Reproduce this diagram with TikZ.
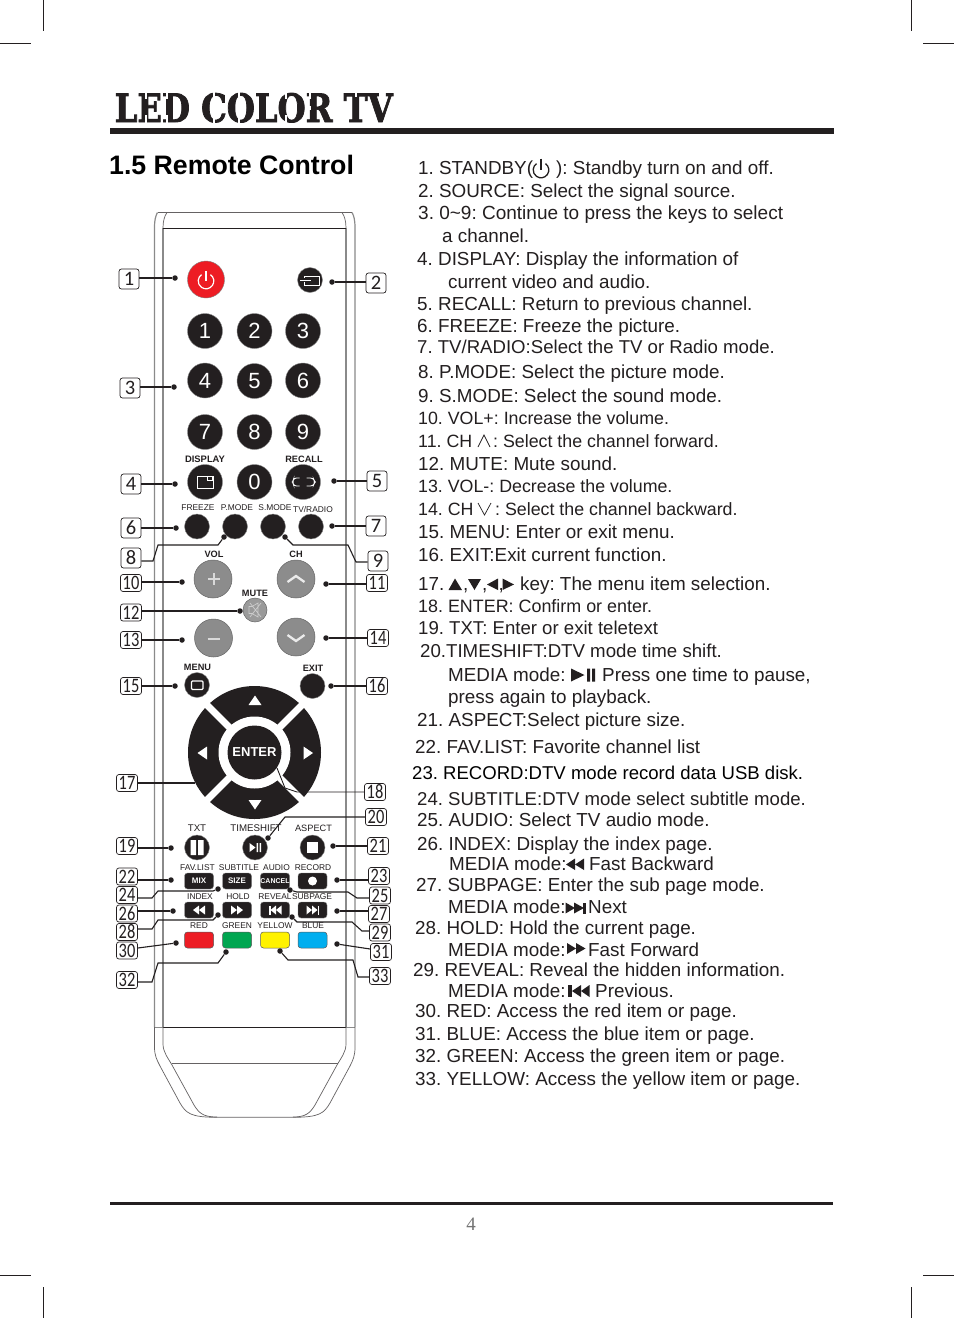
\documentclass[tikz,border=0pt]{standalone}
\usepackage{fontspec}
\usepackage{graphicx}
\setmainfont{Liberation Sans}
\newfontfamily\numfont{Carlito}
\newfontfamily\headfont[UprightFont=* Bold,FakeBold=2.2]{DejaVu Serif}
\newfontfamily\pagefont{Liberation Serif}
\definecolor{ink}{HTML}{231F20}
\definecolor{bodygray}{HTML}{8A8A8A}
\definecolor{btngray}{HTML}{8C8C8C}
\definecolor{mutegray}{HTML}{9A9A9A}
\definecolor{redkey}{HTML}{ED1C24}
\definecolor{greenkey}{HTML}{00A651}
\definecolor{yellowkey}{HTML}{FFF200}
\definecolor{bluekey}{HTML}{00AEEF}
\frenchspacing
\newcount\tlcount
\newcommand{\tl}[4][18.85]{\global\advance\tlcount by 1
  \node[anchor=base west,inner sep=0pt,text=ink] (t\the\tlcount) at (#2,#3) {\fontsize{#1}{#1}\selectfont #4};}
\newcount\klcount
\newcommand{\kl}[4][8.4]{\global\advance\klcount by 1
  \node[inner sep=0pt,text=ink] (k\the\klcount) at (#2,#3) {\fontsize{#1}{#1}\selectfont #4};}
\newcommand{\nb}[3]{\node[numbox] (b#1) at (#2,#3) {#1};}
\newcommand{\nbb}[3]{\node[numbox,minimum width=21pt,minimum height=17pt] (b#1) at (#2,#3) {\scalebox{0.8}[1]{#1}};}
\newcommand{\dotat}[3]{\node[dotn] (d#1) at (#2,#3) {};}
\newcommand{\tri}[7]{\fill[#7] (#1,#2) -- (#3,#4) -- (#5,#6) -- cycle;}
\tikzset{
  numbox/.style={draw=ink,fill=white,line width=0.7pt,rounded corners=2.5pt,minimum width=20pt,minimum height=20pt,inner sep=0pt,text height=13pt,text depth=0pt,font=\numfont\fontsize{20.5}{20.5}\selectfont,text=ink},
  dotn/.style={circle,fill=ink,minimum size=5.5pt,inner sep=0pt},
  conn/.style={draw=ink,line width=1.1pt},
  blackkey/.style={circle,fill=ink,draw=bodygray,line width=0.4pt,inner sep=0pt},
  graykey/.style={circle,fill=btngray,draw=black!60,line width=0.5pt,inner sep=0pt,minimum size=38pt},
  rectkey/.style={fill=ink,draw=bodygray,line width=0.4pt,rounded corners=3pt,minimum width=29pt,minimum height=16pt,inner sep=0pt},
  colorkey/.style={draw=black!65,line width=0.5pt,rounded corners=3pt,minimum width=29pt,minimum height=16pt,inner sep=0pt},
  numkey/.style={blackkey,minimum size=35pt,text=white,font=\fontsize{22}{22}\selectfont},
  smallkey/.style={blackkey,minimum size=25pt},
  glyph/.style={draw=white,line width=1.1pt},
  rmain/.style={draw=ink!70,line width=0.7pt},
  rinner/.style={draw=bodygray,line width=1.2pt},
  crop/.style={draw=ink,line width=0.8pt},
  slit/.style={draw=white,line width=1.1pt},
}
\begin{document}
\begin{tikzpicture}[x=1pt,y=-1pt]
\useasboundingbox (0,0) rectangle (954,1318);
\fill[white] (0,0) rectangle (954,1318);
% crop marks
\draw[crop] (43.5,0) -- (43.5,31); \draw[crop] (0,43.5) -- (31,43.5);
\draw[crop] (911,0) -- (911,31); \draw[crop] (923,43.5) -- (954,43.5);
\draw[crop] (43.5,1287) -- (43.5,1318); \draw[crop] (0,1275) -- (31,1275);
\draw[crop] (911,1287) -- (911,1318); \draw[crop] (923,1275) -- (954,1275);
% header
\node[anchor=base west,inner sep=0pt,text=ink] (head) at (114.5,122) {\resizebox{278pt}{29pt}{\headfont LED COLOR TV}};
% stencil bridges
\draw[slit] (146,92) -- (146,99) (146,115) -- (146,124);
\draw[slit] (167,92) -- (167,99) (167,115) -- (167,124);
\draw[slit] (214,92) -- (214,99) (214,115) -- (214,124);
\draw[slit] (239,92) -- (239,99) (239,115) -- (239,124);
\draw[slit] (286,92) -- (286,99) (286,115) -- (286,124);
\draw[slit] (310,92) -- (310,99) (310,106) -- (310,110);
\draw[slit] (356,92) -- (356,97);
\fill[ink] (110,128.3) rectangle (834,134);
\fill[ink] (110,1202) rectangle (833,1204.5);
\node[anchor=base,inner sep=0pt,text=black!55] (pg) at (471,1230) {\pagefont\fontsize{19}{19}\selectfont 4};
\node[anchor=base west,inner sep=0pt,text=black] (title) at (109,174) {\fontsize{26.7}{26.7}\selectfont\bfseries 1.5 Remote Control};
% remote body
\draw[rinner] (154.5,1027) -- (154.5,228) .. controls (154.5,220) and (155.5,216) .. (157.5,212.5);
\draw[rinner] (355,1027) -- (355,228) .. controls (355,220) and (354,216) .. (352,212.5);
\draw[rinner] (163,1027) -- (163,228);
\draw[rinner] (346,1027) -- (346,228);
\draw[rmain] (157.5,212.5) -- (352,212.5);
\draw[rmain] (163,228) .. controls (163,221) and (164.5,216) .. (167,212.5);
\draw[rmain] (346,228) .. controls (346,221) and (344.5,216) .. (342,212.5);
\draw[draw=ink,line width=0.9pt] (163,228) -- (346,228);
\draw[rinner,line width=0.8pt] (154.5,1027) -- (355,1027);
\draw[draw=ink,line width=0.9pt] (163,1027) -- (346,1027);
\draw[rmain] (154.5,1027) -- (154.5,1047) .. controls (154.5,1056) and (157,1060) .. (160,1066) -- (180,1103) .. controls (186,1113) and (190,1117.3) .. (217,1117.3) -- (293,1117.3) .. controls (320,1117.3) and (324,1113) .. (330,1103) -- (350,1066) .. controls (353,1060) and (355,1056) .. (355,1047) -- (355,1027);
\draw[rmain] (163,1027) -- (163,1044) .. controls (163,1052) and (168,1058) .. (172,1065) -- (194,1105) .. controls (199,1113) and (203,1117) .. (217,1117);
\draw[rmain] (346,1027) -- (346,1044) .. controls (346,1052) and (341,1058) .. (337,1065) -- (315,1105) .. controls (310,1113) and (306,1117) .. (293,1117);
\draw[rmain] (172,1063.5) -- (338,1063.5);
% power and source
\node[circle,fill=redkey,draw=black!50,line width=0.4pt,minimum size=37pt,inner sep=0pt] (kpower) at (206,279.5) {};
\draw[draw=white,line width=1.2pt,shift={(206,281)}] (-55:7.8) arc[start angle=-55,end angle=235,radius=7.8];
\draw[draw=white,line width=1.2pt] (206,271) -- (206,281);
\node[smallkey] (ksource) at (310,280) {};
\draw[glyph,line width=0.9pt] (304,276) rectangle (319,285);
\draw[draw=ink,line width=1pt] (304,278.4) -- (304,281.6);
\draw[glyph,line width=0.9pt] (300,280) -- (311,280);
% digits
\node[numkey] (k1) at (205,331) {1};
\node[numkey] (k2) at (254.5,331) {2};
\node[numkey] (k3) at (303,331) {3};
\node[numkey] (k4) at (205,380.5) {4};
\node[numkey] (k5) at (254.5,381) {5};
\node[numkey] (k6) at (303,380.5) {6};
\node[numkey] (k7) at (205,432) {7};
\node[numkey] (k8) at (254.5,432) {8};
\node[numkey] (k9) at (303,432) {9};
\node[numkey] (kdisplay) at (205,482) {};
\node[numkey] (k0) at (254.5,482) {0};
\node[numkey] (krecall) at (303,482) {};
\draw[glyph,line width=0.9pt] (197,476) rectangle (213,488);
\draw[glyph,line width=0.7pt,fill=ink] (207,476.5) rectangle (212,480);
\draw[glyph,line width=0.9pt,rounded corners=2.5pt] (299.5,478) -- (294,478) -- (292.5,482) -- (294,486) -- (299.5,486);
\draw[glyph,line width=0.9pt,rounded corners=2.5pt] (306.5,478) -- (313,478) -- (315,482) -- (313,486) -- (306.5,486);
\node[smallkey] (kfreeze) at (197,526.5) {};
\node[smallkey] (kpmode) at (235,526.5) {};
\node[smallkey] (ksmode) at (273,526.5) {};
\node[smallkey] (ktv) at (311,526.5) {};
\kl[9.4]{205}{459.5}{\bfseries DISPLAY}
\kl[9.2]{304}{459.5}{\bfseries RECALL}
\kl{198}{508}{FREEZE}
\kl{237}{508}{P.MODE}
\kl{275}{508}{S.MODE}
\kl{313}{509}{TV/RADIO}
% volume / channel
\node[graykey] (kvolup) at (213,579) {};
\node[graykey] (kchup) at (296,579) {};
\node[graykey] (kvoldn) at (213.5,638) {};
\node[graykey] (kchdn) at (296,637) {};
\node[circle,fill=mutegray,draw=black!60,line width=0.5pt,minimum size=24pt,inner sep=0pt] (kmute) at (255,610) {};
\draw[draw=white!85!black,line width=1.3pt] (208,579) -- (220,579) (214,573) -- (214,585);
\draw[draw=white!85!black,line width=1.3pt] (207.5,639) -- (220,639);
\draw[draw=white!92!black,line width=2.3pt] (287.5,582) -- (296,576) -- (304.5,582);
\draw[draw=white!92!black,line width=2.3pt] (287.5,635) -- (296,641) -- (304.5,635);
\draw[draw=white!80!black,line width=0.7pt] (249,606.5) -- (252,606.5) -- (258,603) -- (258,617) -- (252,613.5) -- (249,613.5) -- cycle (250,603) -- (261,617) (261,603) -- (250,617);
\kl[9.2]{214}{554.5}{\bfseries VOL}
\kl[9.2]{296}{554.5}{\bfseries CH}
\kl[9.2]{255}{593.5}{\bfseries MUTE}
\kl[9.2]{197.5}{667}{\bfseries MENU}
\kl[9.2]{313}{668.5}{\bfseries EXIT}
\node[smallkey] (kmenu) at (197,685) {};
\node[smallkey] (kexit) at (312.5,686) {};
\draw[glyph,rounded corners=1pt,line width=1.3pt] (191.5,681) rectangle (203,689.5);
% d-pad
\node[circle,fill=ink,minimum size=133pt,inner sep=0pt] (dpad) at (254.5,752.5) {};
\draw[draw=white,line width=7pt] (206,704) -- (303,801) (303,704) -- (206,801);
\node[circle,fill=white,minimum size=72pt,inner sep=0pt] (dring) at (254.5,752.5) {};
\node[circle,fill=ink,minimum size=54pt,inner sep=0pt,text=white,font=\fontsize{13}{13}\selectfont\bfseries] (kenter) at (254.5,752.5) {\raisebox{-1pt}{ENTER}};
\tri{255}{695.5}{248.5}{705}{261.5}{705}{white}
\tri{255}{809.5}{248.5}{800}{261.5}{800}{white}
\tri{197.5}{753}{207}{746.5}{207}{759.5}{white}
\tri{313}{753}{303.5}{746.5}{303.5}{759.5}{white}
% lower round keys
\node[smallkey] (ktxt) at (197,847.5) {};
\node[smallkey] (kts) at (255,847.5) {};
\node[smallkey] (kasp) at (312.5,847.5) {};
\fill[white] (190.5,840) rectangle (196,855) (198,840) rectangle (203.5,855);
\tri{249.5}{843}{249.5}{852}{255.5}{847.5}{white}
\fill[white] (256.5,843) rectangle (258,852) (259.5,843) rectangle (261,852);
\fill[white] (307,842) rectangle (318,853);
\kl[9.7]{197}{828.5}{TXT}
\kl[9.7]{256}{828.5}{TIMESHIFT}
\kl[9.2]{313.5}{828.5}{ASPECT}
% rectangular keys
\node[rectkey,text=white,font=\fontsize{8}{8}\selectfont\bfseries] (kmix) at (199,881) {MIX};
\node[rectkey,text=white,font=\fontsize{8}{8}\selectfont\bfseries] (ksize) at (237,881) {SIZE};
\node[rectkey,text=white,font=\fontsize{7}{7}\selectfont\bfseries] (kcancel) at (275,881) {CANCEL};
\node[rectkey] (krec) at (312.5,881) {};
\fill[white] (312.5,881) circle[radius=4.5];
\node[rectkey] (kindex) at (199,910) {};
\node[rectkey] (khold) at (237,910) {};
\node[rectkey] (kreveal) at (275,910) {};
\node[rectkey] (ksub) at (312.5,910) {};
\tri{193}{910}{199}{905.5}{199}{914.5}{white}
\tri{199}{910}{205}{905.5}{205}{914.5}{white}
\tri{237}{910}{231}{905.5}{231}{914.5}{white}
\tri{243}{910}{237}{905.5}{237}{914.5}{white}
\fill[white] (269,905.5) rectangle (270.5,914.5);
\tri{270.5}{910}{276}{905.5}{276}{914.5}{white}
\tri{276}{910}{281.5}{905.5}{281.5}{914.5}{white}
\tri{312}{910}{306.5}{905.5}{306.5}{914.5}{white}
\tri{317.5}{910}{312}{905.5}{312}{914.5}{white}
\fill[white] (317.5,905.5) rectangle (319,914.5);
\node[colorkey,fill=redkey] (kred) at (199,940) {};
\node[colorkey,fill=greenkey] (kgreen) at (237,940) {};
\node[colorkey,fill=yellowkey] (kyellow) at (275,940) {};
\node[colorkey,fill=bluekey] (kblue) at (312.5,940) {};
\kl{197.5}{868}{FAV.LIST}
\kl{239}{868}{SUBTITLE}
\kl{276.5}{868}{AUDIO}
\kl{313}{868}{RECORD}
\kl{200}{897}{INDEX}
\kl{238}{897}{HOLD}
\kl{275}{897}{REVEAL}
\kl{312}{897}{SUBPAGE}
\kl{199}{926}{RED}
\kl{237}{926}{GREEN}
\kl{275}{926}{YELLOW}
\kl{313}{926}{BLUE}
% number boxes
\nb{1}{129}{279} \nb{2}{376}{283} \nb{3}{130}{388} \nb{4}{131}{484}
\nb{5}{377}{481} \nb{6}{131}{528} \nb{7}{376}{526} \nb{8}{131}{558} \nb{9}{378}{561}
\nbb{10}{131}{583} \nbb{11}{377}{583} \nbb{12}{131}{612.5} \nbb{13}{131}{640} \nbb{14}{378}{638}
\nbb{15}{131}{686} \nbb{16}{377}{686} \nbb{17}{127}{783} \nbb{18}{375}{792} \nbb{19}{127}{846}
\nbb{20}{376}{817} \nbb{21}{378}{846} \nbb{22}{127}{876.5} \nbb{23}{379}{876} \nbb{24}{127}{895}
\nbb{25}{380}{895.5} \nbb{26}{127}{913.5} \nbb{27}{379}{914} \nbb{28}{127}{932} \nbb{29}{380}{932.5}
\nbb{30}{127}{950.5} \nbb{31}{381}{952} \nbb{32}{127}{980} \nbb{33}{380}{976}
% leader dots
\dotat{1}{175}{278} \dotat{2}{332}{282} \dotat{3}{174}{387} \dotat{4}{175}{484} \dotat{5}{334}{481}
\dotat{6}{176}{528} \dotat{7}{332}{526} \dotat{8}{224}{537} \dotat{9}{285}{537} \dotat{10}{182}{582}
\dotat{11}{326}{584} \dotat{12}{240}{611} \dotat{13}{182}{640} \dotat{14}{326}{638} \dotat{15}{175}{686}
\dotat{16}{331}{686} \dotat{19}{171}{848} \dotat{20}{268}{838} \dotat{21}{333}{846} \dotat{22}{171}{880}
\dotat{23}{337}{880} \dotat{24}{218}{889} \dotat{25}{290}{890} \dotat{26}{173}{911} \dotat{27}{337}{911}
\dotat{28}{218}{915} \dotat{29}{292}{917} \dotat{30}{176}{943} \dotat{31}{337}{944} \dotat{32}{226}{952} \dotat{33}{280}{951}
% leaders
\foreach \n in {1,3,4,6,10,12,13,15,19,22,26}{\draw[conn] (d\n) -- (d\n -| b\n.east);}
\foreach \n in {2,5,7,11,14,16,21,23,27}{\draw[conn] (d\n) -- (d\n -| b\n.west);}
\draw[conn] (b8.east |- 0,561) -- (153,561) -- (158,545) -- (218,545) -- (d8);
\draw[conn] (b9.west |- 0,562) -- (356,562) -- (348,545) -- (293,545) -- (d9);
\draw[conn] (b17.east) -- (195,783);
\draw[conn,line width=0.9pt] (b18.west) -- (297,792) -- (285,788) -- (277,768);
\draw[conn] (b20.west) -- (285,817) -- (d20);
\draw[conn] (b24.east |- 0,898) -- (152,898) -- (158,891) -- (213,891) -- (d24);
\draw[conn] (b25.west |- 0,898) -- (357,898) -- (348,892) -- (297,892) -- (d25);
\draw[conn] (b28.east |- 0,929) -- (152,929) -- (158,920) -- (213,920) -- (d28);
\draw[conn] (b29.west |- 0,931) -- (362,931) -- (352,922) -- (297,922) -- (d29);
\draw[conn] (b30.east |- 0,948) -- (d30);
\draw[conn] (b31.west |- 0,949) -- (d31);
\draw[conn] (b32.east |- 0,982) -- (152,982) -- (158,963) -- (218,963) -- (d32);
\draw[conn] (b33.west |- 0,977) -- (358,977) -- (353,960) -- (288,960) -- (d33);
% right hand text
\tl{418}{174}{1. STANDBY(}
\draw[draw=ink,line width=1.3pt,shift={(541,170)}] (-55:7.8) arc[start angle=-55,end angle=235,radius=7.8];
\draw[draw=ink,line width=1.3pt] (541,158.5) -- (541,170);
\tl{556}{174}{): Standby turn on and off.}
\tl{418}{197}{2. SOURCE: Select the signal source.}
\tl[19]{418}{219.5}{3. 0\char"007E 9: Continue to press the keys to select}
\tl{442}{242.5}{a channel.}
\tl{417}{265.5}{4. DISPLAY: Display the information of}
\tl{448}{288.5}{current video and audio.}
\tl{417}{310.5}{5. RECALL: Return to previous channel.}
\tl{417}{332}{6. FREEZE: Freeze the picture.}
\tl[18.6]{417}{353.5}{7. TV/RADIO:Select the TV or Radio mode.}
\tl{418}{378}{8. P.MODE: Select the picture mode.}
\tl{418}{402}{9. S.MODE: Select the sound mode.}
\tl[17.8]{418}{424}{10. VOL+: Increase the volume.}
\tl[17.8]{418}{447}{11. CH}
\draw[draw=ink,line width=0.7pt] (478,447) -- (484,435) -- (490,447);
\tl[17.8]{493}{447}{: Select the channel forward.}
\tl{418}{470}{12. MUTE: Mute sound.}
\tl[17.8]{418}{492}{13. VOL-: Decrease the volume.}
\tl[17.8]{418}{515}{14. CH}
\draw[draw=ink,line width=0.7pt] (478,503) -- (484.5,515) -- (491,503);
\tl[17.8]{495}{515}{: Select the channel backward.}
\tl{418}{538}{15. MENU: Enter or exit menu.}
\tl{418}{561}{16. EXIT:Exit current function.}
\tl{418}{590}{17.}
\tri{455}{578.5}{448.5}{590}{462}{590}{ink}
\tl{463}{590}{,}
\tri{474.5}{590}{468}{579}{481}{579}{ink}
\tl{482}{590}{,}
\tri{487}{584.5}{498}{578.5}{498}{590}{ink}
\tl{498.5}{590}{,}
\tri{514}{584.5}{502.5}{578.5}{502.5}{590}{ink}
\tl{520}{590}{key: The menu item selection.}
\tl[17.9]{418}{612}{18. ENTER: Confirm or enter.}
\tl[18.6]{418}{634.5}{19. TXT: Enter or exit teletext}
\tl[18.66]{420}{657}{20.TIMESHIFT:DTV mode time shift.}
\tl{448}{681}{MEDIA mode:}
\tri{571}{668.5}{571}{681.5}{584.5}{675}{ink}
\fill[ink] (587,668.5) rectangle (590,681.5) (592,668.5) rectangle (595,681.5);
\tl{602}{681}{Press one time to pause,}
\tl{448}{703.5}{press again to playback.}
\tl{417}{726}{21. ASPECT:Select picture size.}
\tl{415}{753}{22. FAV.LIST: Favorite channel list}
\node[anchor=base west,inner sep=0pt,text=black] (t23) at (412,779) {\fontsize{18.56}{18.56}\selectfont 23. RECORD:DTV mode record data USB disk.};
\tl[18.6]{417}{805}{24. SUBTITLE:DTV mode select subtitle mode.}
\tl{417}{826.5}{25. AUDIO: Select TV audio mode.}
\tl{417}{850}{26. INDEX: Display the index page.}
\tl{449}{870}{MEDIA mode:}
\tri{566}{864.5}{575}{858.5}{575}{870}{ink}
\tri{575}{864.5}{584}{858.5}{584}{870}{ink}
\tl{589}{870}{Fast Backward}
\tl{416}{891}{27. SUBPAGE: Enter the sub page mode.}
\tl{448}{913.5}{MEDIA mode:}
\tri{575}{908}{565.5}{902.5}{565.5}{913.5}{ink}
\tri{584}{908}{574}{902.5}{574}{913.5}{ink}
\fill[ink] (582.5,902.5) rectangle (586,913.5);
\tl{588}{913.5}{Next}
\tl{415}{934}{28. HOLD: Hold the current page.}
\tl{448}{956}{MEDIA mode:}
\tri{576}{948.5}{567}{943}{567}{954}{ink}
\tri{585.5}{948.5}{576}{943}{576}{954}{ink}
\tl{588}{956}{Fast Forward}
\tl{413}{976}{29. REVEAL: Reveal the hidden information.}
\tl{448}{997}{MEDIA mode:}
\fill[ink] (568,985) rectangle (572,997);
\tri{572}{991}{581}{985}{581}{997}{ink}
\tri{581}{991}{589.5}{985}{589.5}{997}{ink}
\tl{595}{997}{Previous.}
\tl{415}{1017}{30. RED: Access the red item or page.}
\tl{415}{1040}{31. BLUE: Access the blue item or page.}
\tl{415}{1062}{32. GREEN: Access the green item or page.}
\tl{415}{1085}{33. YELLOW: Access the yellow item or page.}
\end{tikzpicture}
\end{document}
